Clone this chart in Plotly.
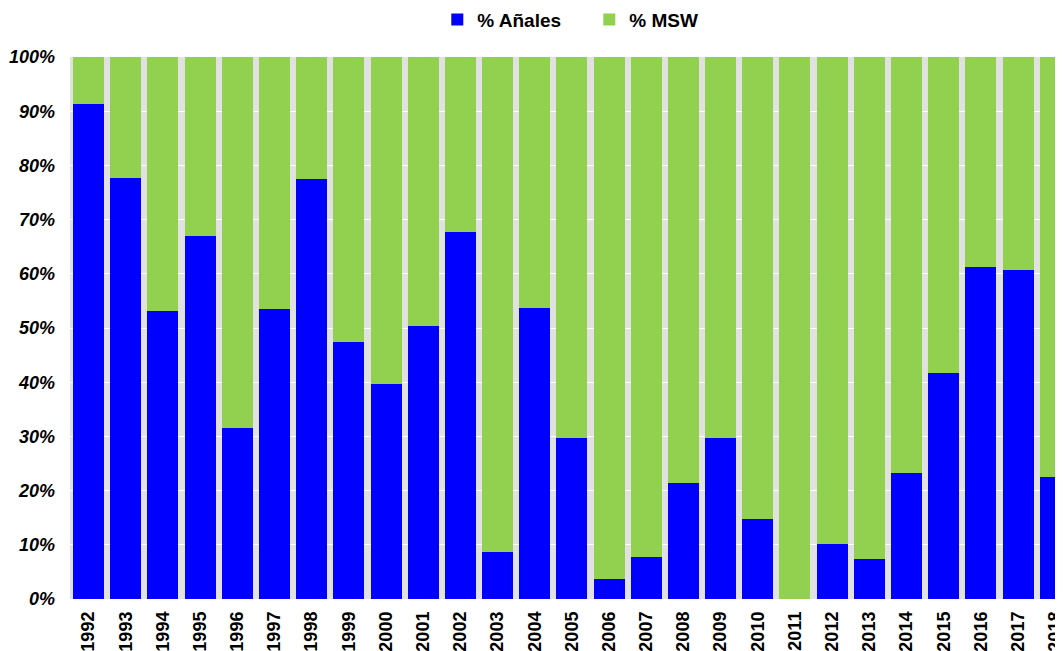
import plotly.graph_objects as go

years = [str(y) for y in range(1992, 2019)]
anales = [91.3, 77.7, 53.1, 67.0, 31.5, 53.5, 77.5, 47.4, 39.7, 50.4, 67.7, 8.7, 53.7, 29.7,
          3.7, 7.7, 21.4, 29.7, 14.8, 0.0, 10.1, 7.4, 23.2, 41.7, 61.3, 60.7, 22.5]
msw = [round(100 - a, 1) for a in anales]
yticks = [0, 10, 20, 30, 40, 50, 60, 70, 80, 90, 100]
ytext = [f"{t}%" for t in yticks]

fig = go.Figure()
fig.add_trace(go.Bar(x=years, y=anales, name="% Añales", marker=dict(color="#0000FF", line=dict(width=0))))
fig.add_trace(go.Bar(x=years, y=msw, name="% MSW", marker=dict(color="#92D050", line=dict(width=0))))

fig.update_layout(
    width=1055, height=643,
    barmode="stack", bargap=0.166,
    margin=dict(l=62, r=0, t=49, b=52, autoexpand=False),
    paper_bgcolor="white", plot_bgcolor="#e1e1e1",
    font=dict(family="Liberation Sans, Arial, sans-serif", color="black"),
    legend=dict(orientation="h", xref="container", yref="container",
                x=0.551, xanchor="center", y=0.982, yanchor="middle",
                font=dict(size=19, weight="bold"), itemwidth=30, entrywidth=107,
                traceorder="normal"),
    showlegend=True,
)
fig.update_xaxes(type="category", range=[-0.5, 26.21], tickangle=-90, automargin=False,
                 tickfont=dict(size=18, weight="bold"), showgrid=False, ticks="", ticklen=0,
                 ticklabelstandoff=8)
fig.update_yaxes(range=[0, 100], tickvals=yticks, ticktext=ytext, automargin=False,
                 tickfont=dict(size=18, weight="bold", style="italic"),
                 gridcolor="white", gridwidth=1, zeroline=False, ticks="", ticklabelstandoff=14)

fig.write_html("out.html")
